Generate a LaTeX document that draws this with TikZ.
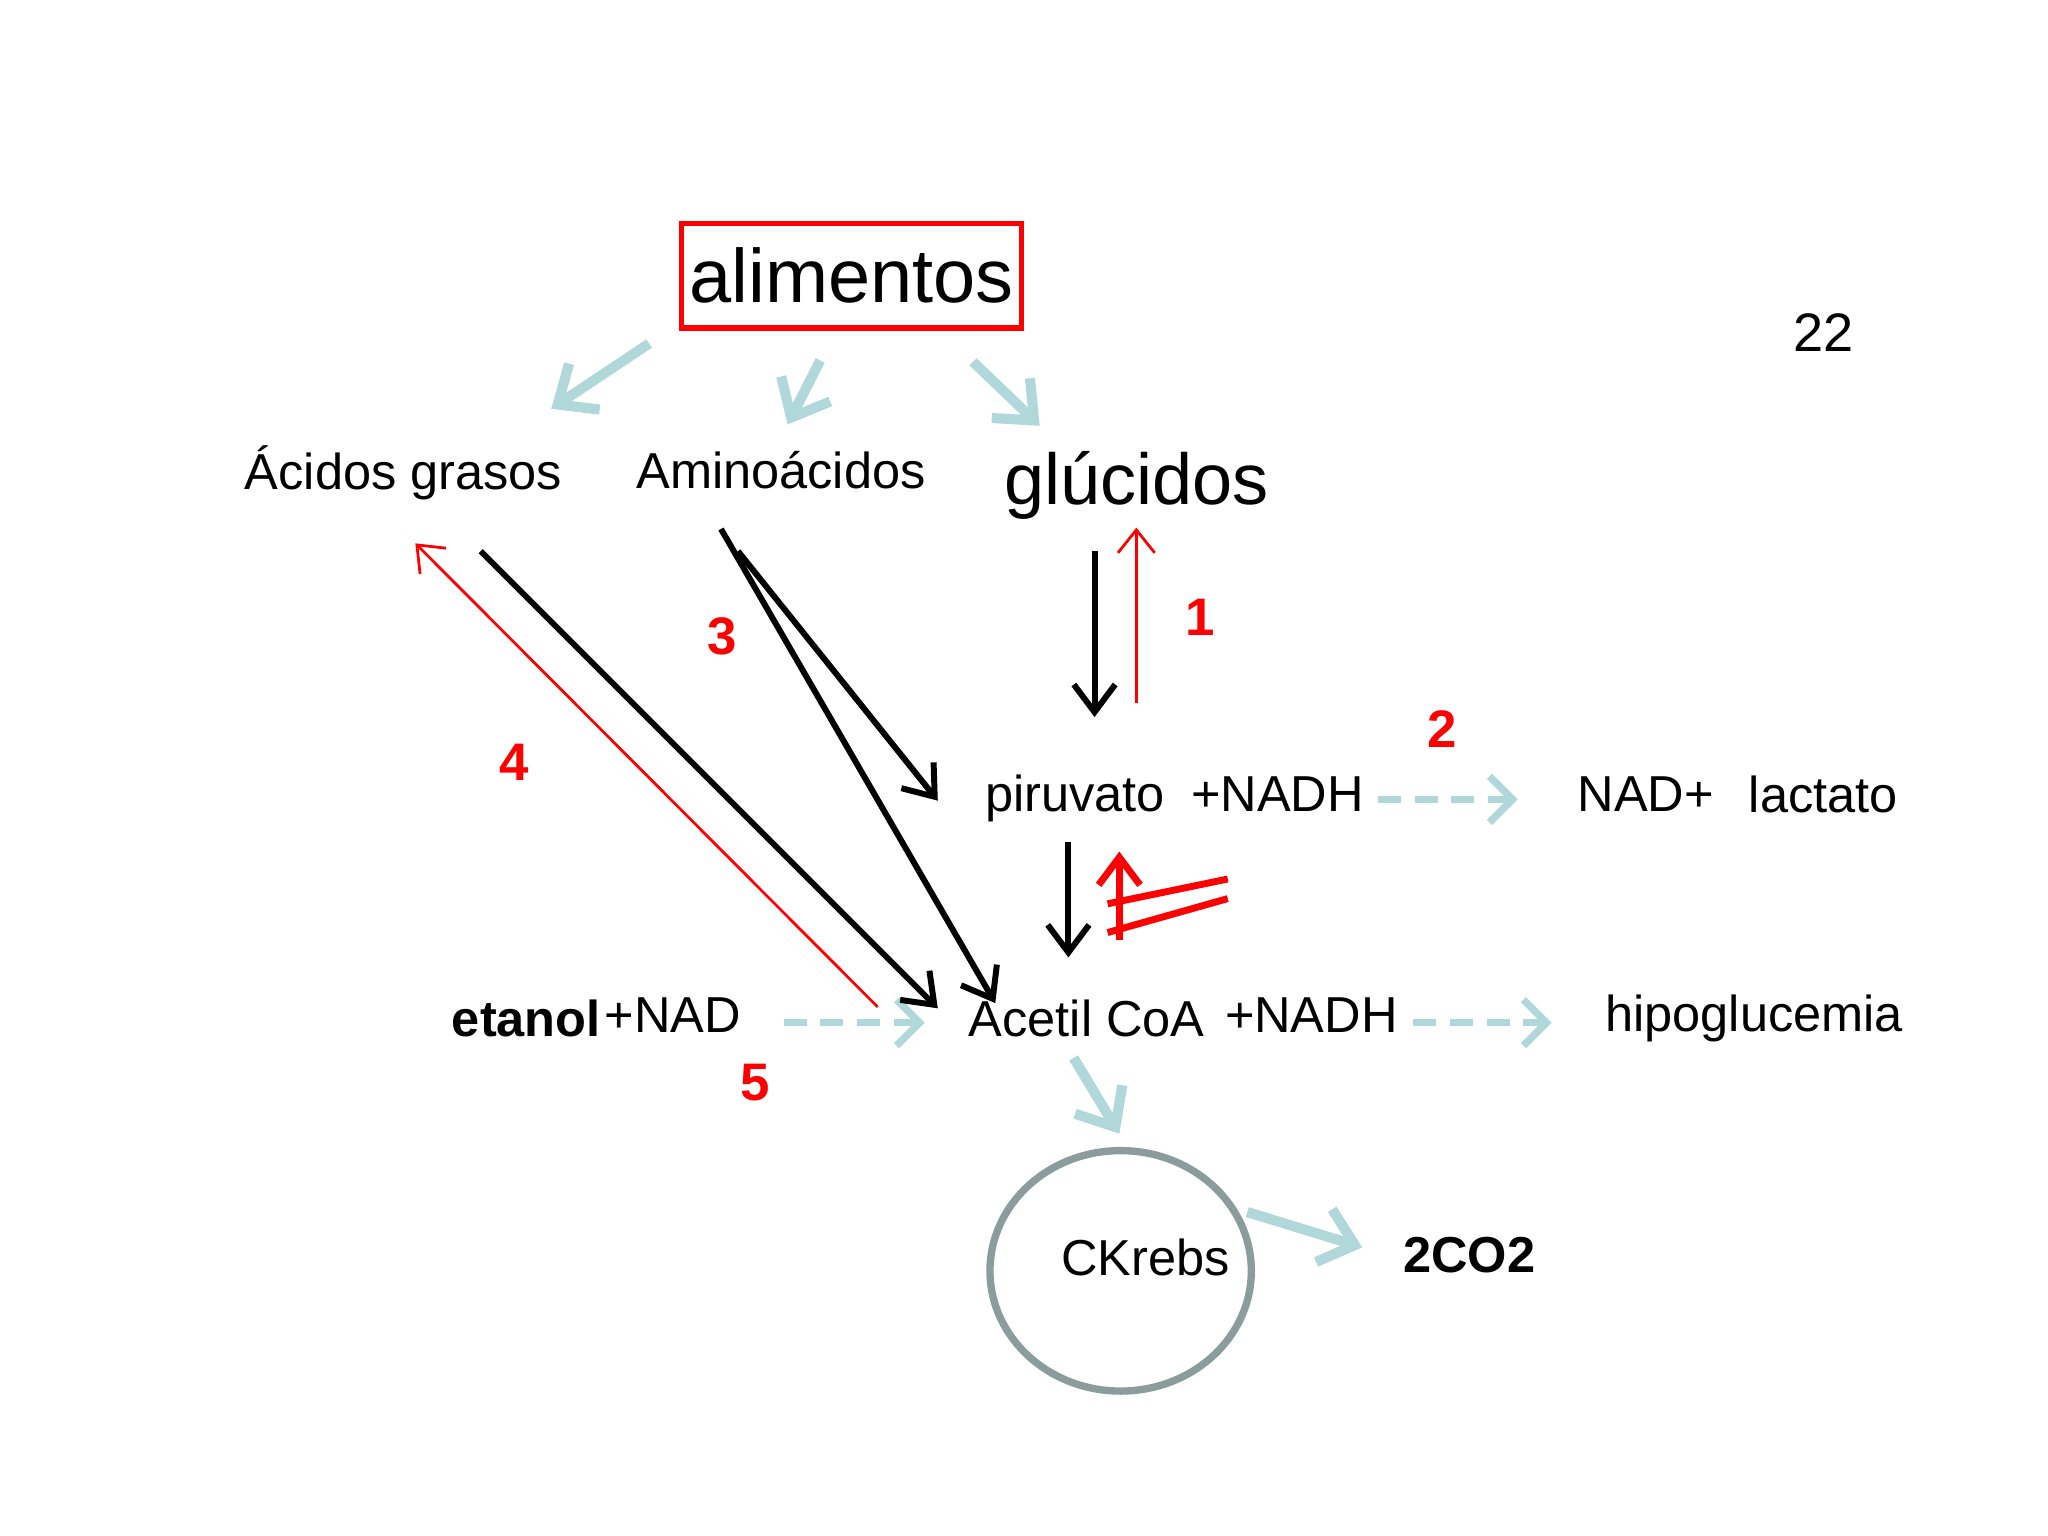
\documentclass[tikz,border=0pt]{standalone}
\usepackage{fontspec}
\setmainfont{Liberation Sans}
\usetikzlibrary{arrows.meta,shapes.geometric}
\begin{document}
\begin{tikzpicture}[x=0.01cm,y=-0.01cm,
  cy/.style={draw={rgb,255:red,176;green,216;blue,218},line width=2.2pt,-{Straight Barb[length=7pt,width=12pt]}},
  cyd/.style={cy,line width=1.6pt,dash pattern=on 5pt off 3pt,-{Straight Barb[length=5pt,width=10pt]}},
  bk/.style={draw=black,line width=1.3pt,-{Straight Barb[length=6pt,width=9pt]}},
  rt/.style={draw=red,line width=0.6pt,-{Straight Barb[length=5pt,width=8pt]}},
  lab/.style={font=\fontsize{11}{13}\selectfont,inner sep=0pt},
  num/.style={text=red,font=\bfseries\fontsize{11.5}{13}\selectfont,inner sep=0pt}]
\useasboundingbox (0,0) rectangle (1568,1176);
\node[draw=red,line width=1.2pt,inner sep=0pt,minimum height=0.8cm,minimum width=2.6cm,font=\fontsize{16.5}{18}\selectfont] (al) at (652,211) {alimentos};
\node[lab] (ag) at (309,362) {Ácidos grasos};
\node[lab] (aa) at (598,360) {Aminoácidos};
\node[inner sep=0pt,font=\fontsize{15.7}{18}\selectfont] (gl) at (870,372) {glúcidos};
\node[lab,font=\fontsize{11.8}{13}\selectfont] (n22) at (1396,255) {22};
\node[lab] (pir) at (823,611) {piruvato};
\node[lab] (nadh1) at (978,608) {+NADH};
\node[lab] (nadp) at (1260,608) {NAD+};
\node[lab] (lac) at (1396,608) {lactato};
\node[lab] (ac) at (832,780) {Acetil CoA};
\node[lab] (nadh2) at (1004,777) {+NADH};
\node[lab] (hip) at (1343,780) {hipoglucemia};
\node[lab,font=\bfseries\fontsize{11}{13}\selectfont] (et) at (403,780) {etanol};
\node[lab] (nad) at (515,777) {+NAD};
\node[draw={rgb,255:red,138;green,156;blue,156},line width=1.6pt,ellipse,minimum width=2.0cm,minimum height=1.84cm,inner sep=0pt] (kc) at (858,973) {};
\node[lab] (ck) at (877,963) {CKrebs};
\node[lab,font=\bfseries\fontsize{11}{13}\selectfont] (co) at (1125,961) {2CO2};
\node[num] (n1) at (919,473) {1};
\node[num] (n2) at (1104,558) {2};
\node[num] (n3) at (553,487) {3};
\node[num] (n4) at (394,584) {4};
\node[num] (n5) at (578,829) {5};
\coordinate (c1a) at (497,263); \coordinate (c1b) at (422,313);
\coordinate (c2a) at (628,276); \coordinate (c2b) at (603,325);
\coordinate (c3a) at (745,277); \coordinate (c3b) at (796,326);
\draw[cy] (c1a) -- (c1b);
\draw[cy] (c2a) -- (c2b);
\draw[cy] (c3a) -- (c3b);
\coordinate (g1) at (838,422); \coordinate (g2) at (838,549);
\draw[bk] (g1) -- (g2);
\coordinate (r1a) at (870,538); \coordinate (r1b) at (870,404);
\draw[rt] (r1a) -- (r1b);
\coordinate (d1a) at (1055,612); \coordinate (d1b) at (1162,612);
\draw[cyd] (d1a) -- (d1b);
\coordinate (p1) at (818,645); \coordinate (p2) at (818,733);
\draw[bk] (p1) -- (p2);
\coordinate (ru1) at (857,720); \coordinate (ru2) at (857,652);
\draw[draw=red,line width=1.5pt,-{Straight Barb[length=6pt,width=9pt]}] (ru1) -- (ru2);
\coordinate (s1a) at (848,692); \coordinate (s1b) at (940,673);
\coordinate (s2a) at (848,714); \coordinate (s2b) at (940,688);
\draw[red,line width=1.5pt] (s1a) -- (s1b) (s2a) -- (s2b);
\coordinate (d2a) at (1082,783); \coordinate (d2b) at (1188,783);
\draw[cyd] (d2a) -- (d2b);
\coordinate (d3a) at (600,783); \coordinate (d3b) at (708,783);
\draw[cyd] (d3a) -- (d3b);
\coordinate (a1a) at (552,405); \coordinate (a1b) at (762,768);
\coordinate (a2a) at (565,422); \coordinate (a2b) at (718,613);
\draw[bk] (a1a) -- (a1b);
\draw[bk] (a2a) -- (a2b);
\coordinate (f1a) at (368,422); \coordinate (f1b) at (718,772);
\draw[bk] (f1a) -- (f1b);
\coordinate (f2a) at (672,771); \coordinate (f2b) at (318,416);
\draw[rt] (f2a) -- (f2b);
\coordinate (k1a) at (822,810); \coordinate (k1b) at (857,868);
\draw[cy] (k1a) -- (k1b);
\coordinate (k2a) at (955,928); \coordinate (k2b) at (1043,955);
\draw[cy] (k2a) -- (k2b);
\end{tikzpicture}
\end{document}
